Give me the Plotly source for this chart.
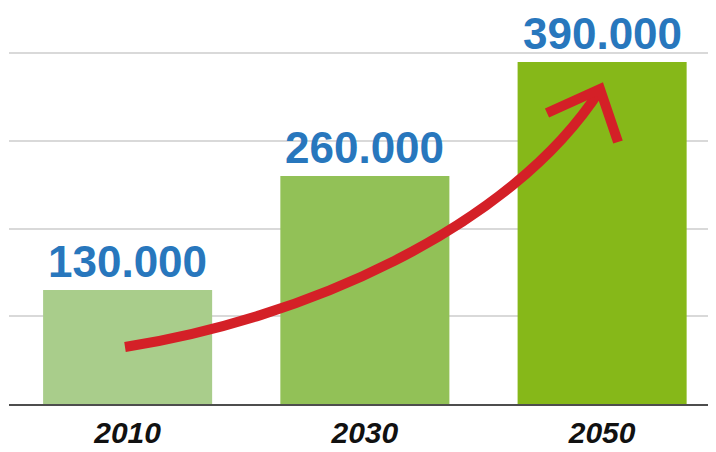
import plotly.graph_objects as go

years = ["2010", "2030", "2050"]
values = [130000, 260000, 390000]
bar_colors = ["#a9cd8b", "#92c157", "#86b819"]
grid_vals = [100000, 200000, 300000, 400000]

# page body has an 8px margin, so the figure is sized to the visible area
OFF = 8
W, H = 716 - OFF, 452 - OFF
ML, MR, MT = 1, 0, 0
BASE = 404 - OFF            # baseline y in figure pixels
MB = H - BASE
PW, PH = W - ML - MR, H - MT - MB
YTOP = PH / 342 * 390000    # value at top of plot area


def px(x, y):
    """reference pixel position -> paper coordinates (decorative arrow)"""
    return (x - OFF - ML) / PW, (BASE - (y - OFF)) / PH


fig = go.Figure()
fig.add_trace(go.Bar(
    x=years, y=values,
    marker=dict(color=bar_colors, line=dict(width=0)),
    hoverinfo="skip",
))

labels = [f"{v:,}".replace(",", ".") for v in values]
for i, (v, lab) in enumerate(zip(values, labels)):
    fig.add_annotation(
        x=i, y=v, text=lab, showarrow=False,
        xanchor="center", yanchor="bottom", yshift=3, borderpad=0,
        font=dict(family="Liberation Sans", size=44, color="#2877bd", weight="bold"),
    )

# decorative curved red arrow
def pt(x, y):
    a, b = px(x, y)
    return f"{a:.5f},{b:.5f}"

curve = f"M {pt(125,347)} C {pt(300,320)} {pt(510,230)} {pt(600,90)}"
head = f"M {pt(547,113)} L {pt(600,89)} L {pt(618,142)}"
for p in (curve, head):
    fig.add_shape(type="path", path=p, xref="paper", yref="paper",
                  line=dict(color="#d42027", width=10), layer="above")

fig.update_layout(
    width=W, height=H,
    margin=dict(l=ML, r=MR, t=MT, b=MB, pad=0, autoexpand=False),
    paper_bgcolor="white", plot_bgcolor="white",
    bargap=0.2875,
    showlegend=False,
    xaxis=dict(
        type="category", automargin=False,
        range=[-0.5, 2.48], showgrid=False, showline=True,
        linecolor="#4d4d4d", linewidth=2, ticks="",
        tickfont=dict(family="Liberation Sans", size=30, color="#111111",
                      weight="bold", style="italic"),
        ticklabelstandoff=1,
    ),
    yaxis=dict(
        range=[0, YTOP], tickvals=grid_vals, showticklabels=False,
        automargin=False,
        showgrid=True, gridcolor="#d9d9d9", gridwidth=2,
        zeroline=False, showline=False,
    ),
)

fig.write_html("out.html")
